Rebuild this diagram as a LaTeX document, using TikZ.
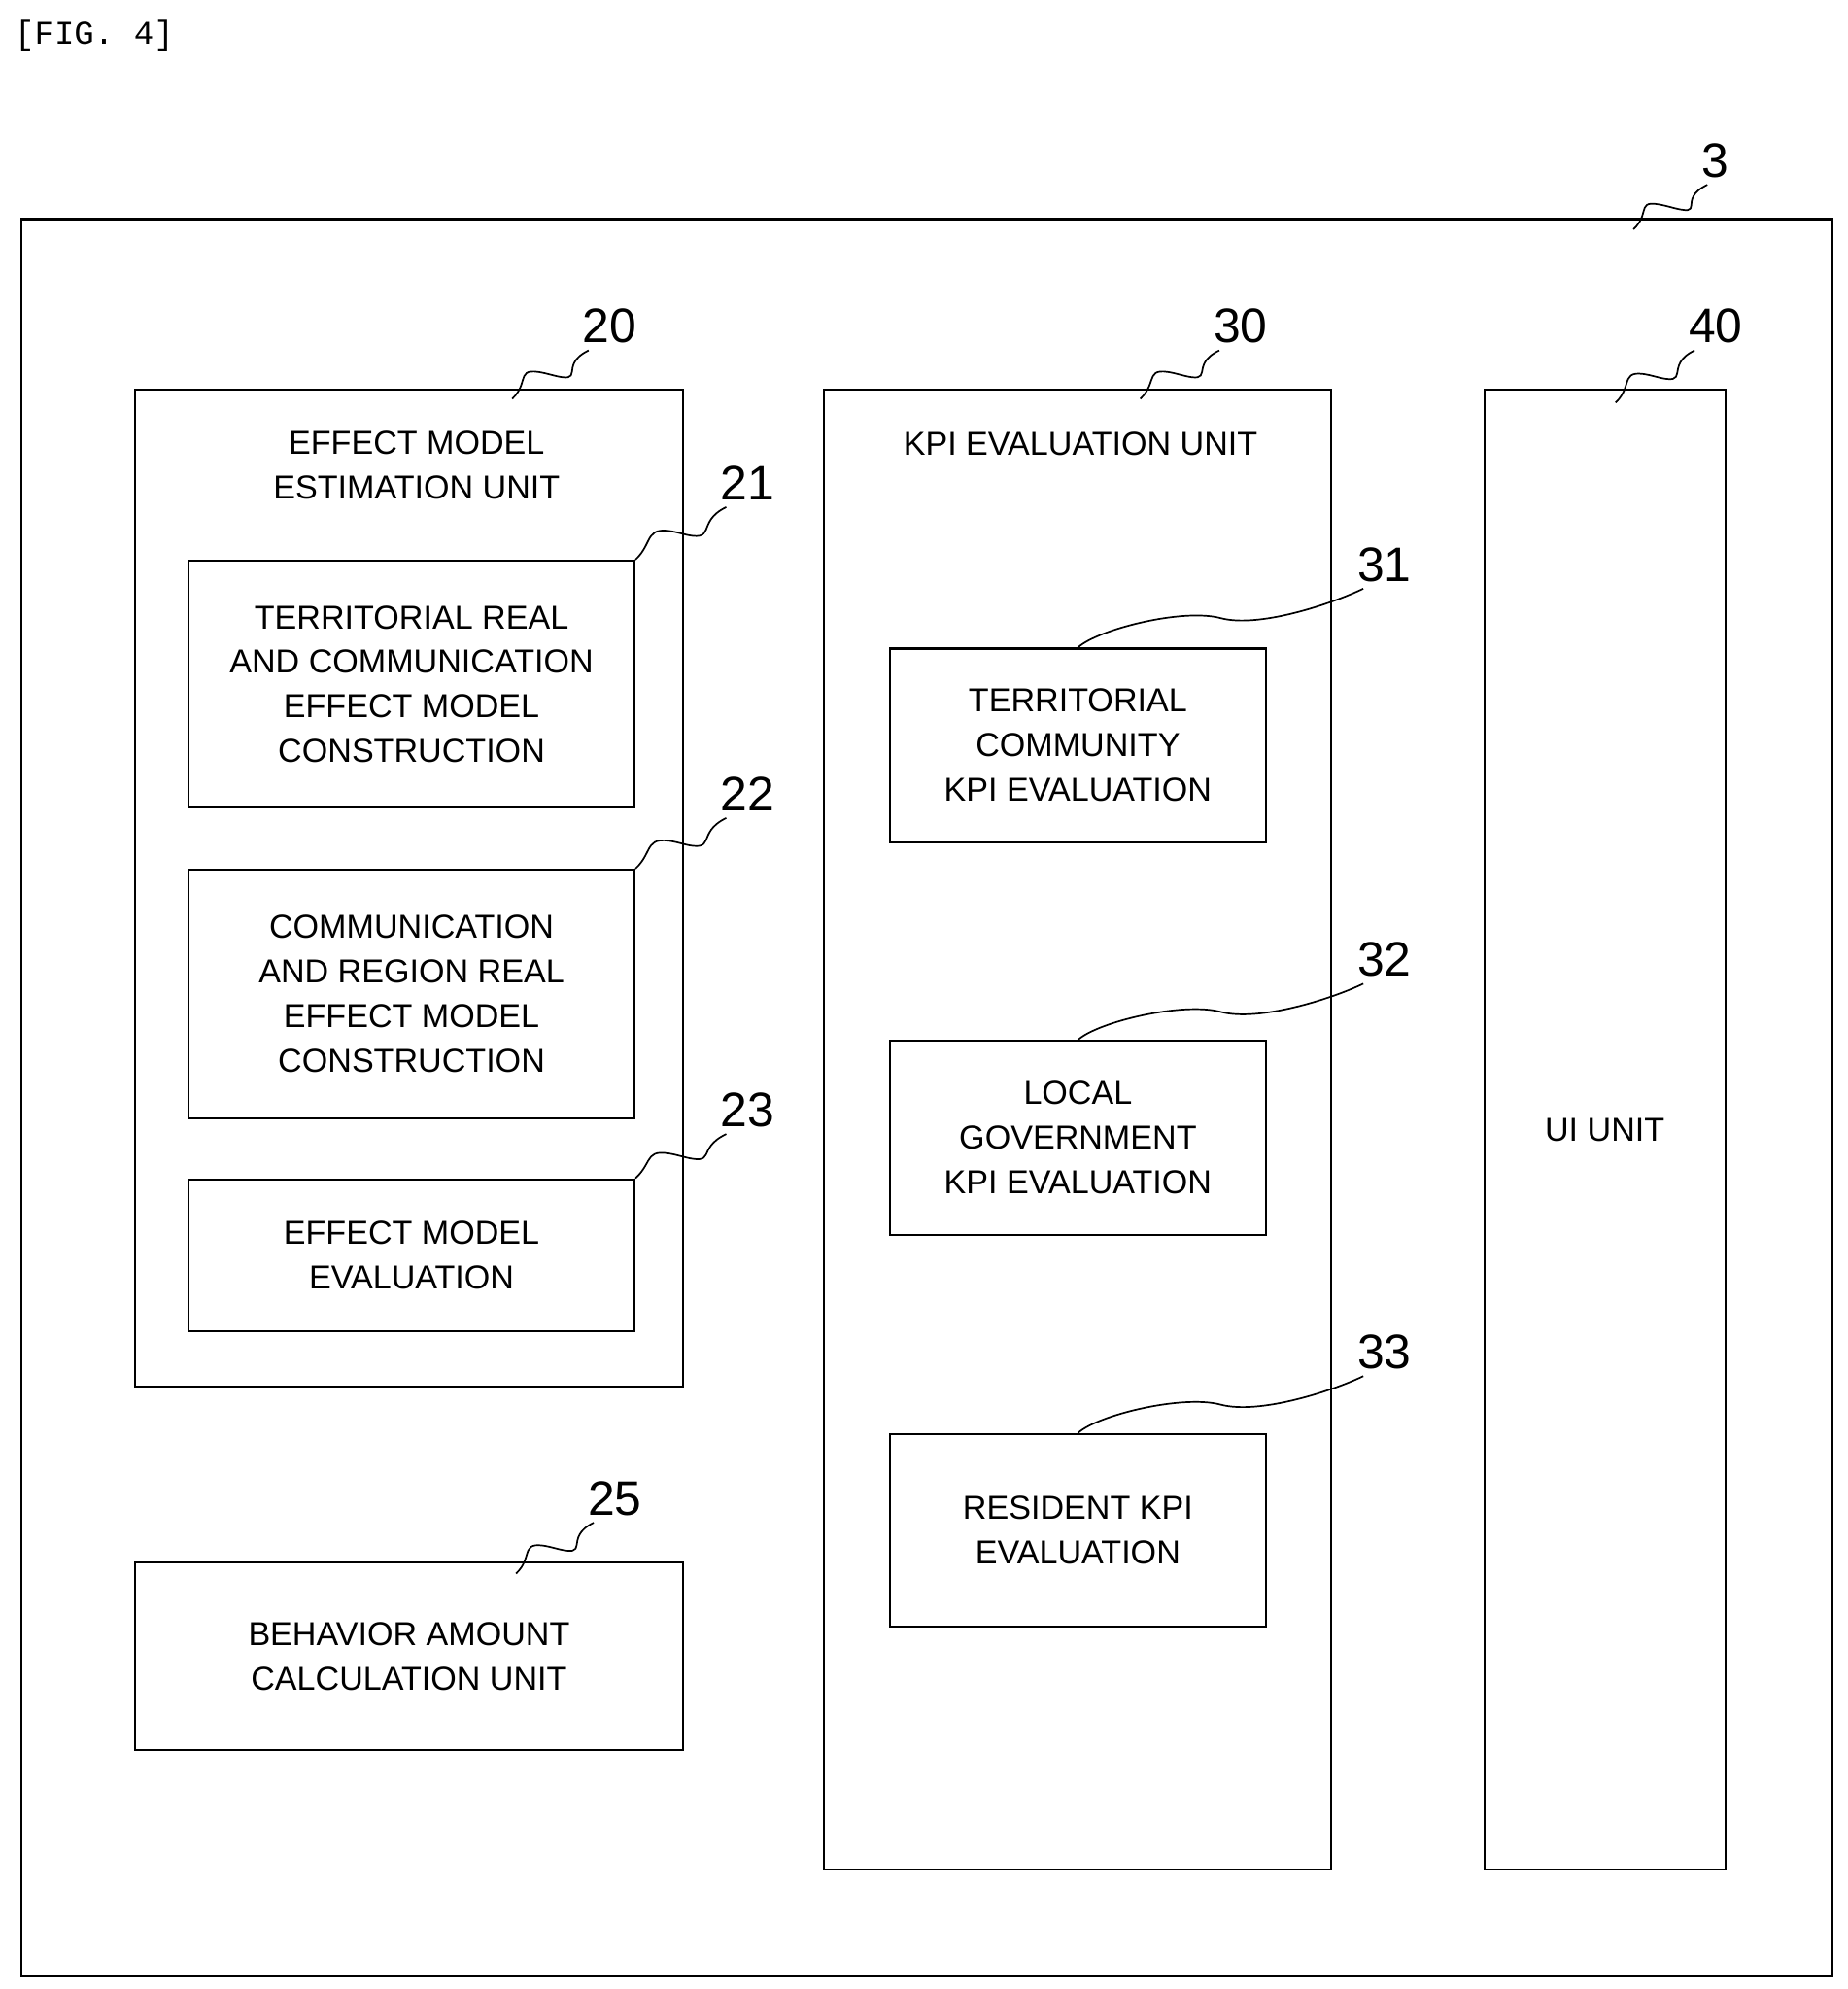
\documentclass[tikz,border=0pt]{standalone}
\usepackage{fontspec}
\setmainfont{Liberation Sans}
\setmonofont{Liberation Mono}
\usetikzlibrary{positioning}
\tikzset{
  block/.style={draw, line width=1.6pt, align=center, inner sep=0pt,
    font=\fontsize{26}{35}\selectfont},
  num/.style={font=\fontsize{38}{40}\selectfont},
}
% leader line from a box to its reference number
\newcommand{\leader}[3]{%
  \draw[line width=1.3pt] (#1) .. controls +(15,-14) and +(-30,-8) .. ($(#1)!0.5!(#2)$)
    .. controls +(30,8) and +(-25,12) .. (#2);
  \node[num, anchor=south west] at ($(#2)+(-8,-2)$) {#3};}
\usetikzlibrary{calc}
\begin{document}
\begin{tikzpicture}[x=1pt, y=-1pt]
  \useasboundingbox (0,0) rectangle (1450,1561);
  \node[anchor=west, font=\ttfamily\fontsize{26}{30}\selectfont] (fig) at (8,28) {[FIG. 4]};

  % outer unit
  \draw[line width=1.8pt] (17,172) rectangle (1438,1551);
  \coordinate (a3) at (1282,180);
  \coordinate (b3) at (1340,145);
  \leader{a3}{b3}{3}

  % effect model estimation unit
  \draw[line width=1.6pt] (106,306) rectangle (536,1088);
  \node[block, draw=none] (t20) at (327,365) {EFFECT MODEL\\ESTIMATION UNIT};
  \coordinate (a20) at (402,313);
  \coordinate (b20) at (462,275);
  \leader{a20}{b20}{20}

  \node[block, minimum width=350pt, minimum height=194pt] (b21) at (323,537)
    {TERRITORIAL REAL\\AND COMMUNICATION\\EFFECT MODEL\\CONSTRUCTION};
  \coordinate (e21) at (570,398);
  \leader{b21.north east}{e21}{21}
  \node[block, minimum width=350pt, minimum height=195pt] (b22) at (323,780)
    {COMMUNICATION\\AND REGION REAL\\EFFECT MODEL\\CONSTRUCTION};
  \coordinate (e22) at (570,642);
  \leader{b22.north east}{e22}{22}
  \node[block, minimum width=350pt, minimum height=119pt] (b23) at (323,985)
    {EFFECT MODEL\\EVALUATION};
  \coordinate (e23) at (570,890);
  \leader{b23.north east}{e23}{23}

  % behavior amount calculation unit
  \node[block, minimum width=430pt, minimum height=147pt] (b25) at (321,1300)
    {BEHAVIOR AMOUNT\\CALCULATION UNIT};
  \coordinate (a25) at (405,1235);
  \coordinate (e25) at (466,1195);
  \leader{a25}{e25}{25}

  % KPI evaluation unit
  \draw[line width=1.6pt] (647,306) rectangle (1045,1467);
  \node[block, draw=none] (t30) at (848,348) {KPI EVALUATION UNIT};
  \coordinate (a30) at (895,313);
  \coordinate (b30) at (957,275);
  \leader{a30}{b30}{30}

  \node[block, minimum width=295pt, minimum height=152pt] (b31) at (846,585)
    {TERRITORIAL\\COMMUNITY\\KPI EVALUATION};
  \coordinate (e31) at (1070,462);
  \leader{b31.north}{e31}{31}
  \node[block, minimum width=295pt, minimum height=152pt] (b32) at (846,893)
    {LOCAL\\GOVERNMENT\\KPI EVALUATION};
  \coordinate (e32) at (1070,772);
  \leader{b32.north}{e32}{32}
  \node[block, minimum width=295pt, minimum height=151pt] (b33) at (846,1201)
    {RESIDENT KPI\\EVALUATION};
  \coordinate (e33) at (1070,1080);
  \leader{b33.north}{e33}{33}

  % UI unit
  \node[block, minimum width=189pt, minimum height=1161pt] (b40) at (1259.5,886.5) {UI UNIT};
  \coordinate (a40) at (1268,316);
  \coordinate (e40) at (1330,275);
  \leader{a40}{e40}{40}
\end{tikzpicture}
\end{document}
